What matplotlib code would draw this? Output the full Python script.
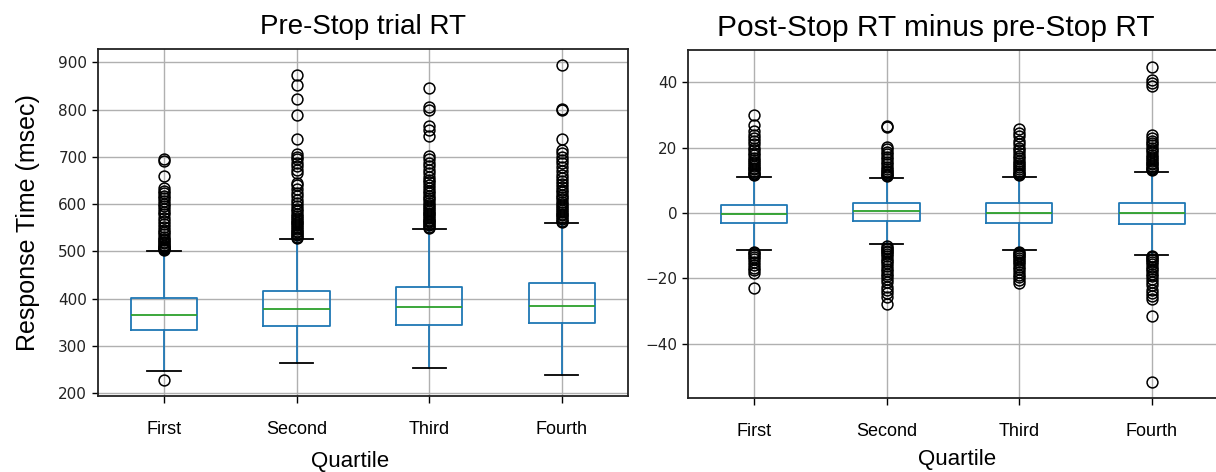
import matplotlib
matplotlib.use("Agg")
import matplotlib.pyplot as plt

# ---------------- data ----------------
quartiles = ["First", "Second", "Third", "Fourth"]

# Left panel: Pre-Stop trial RT (msec)
pre_q1 = [333.5, 341.0, 344.0, 347.7]
pre_med = [364.6, 378.0, 381.6, 385.0]
pre_q3 = [401.0, 416.0, 424.6, 431.8]
pre_whislo = [246.6, 263.6, 253.7, 237.5]
pre_whishi = [499.6, 525.6, 546.8, 560.0]
pre_fliers_first = [227, 502, 504, 506, 508, 510, 512, 514, 517, 520, 523, 527, 531, 536,
                    541, 546, 552, 558, 565, 571, 578, 584, 590, 596, 601, 607, 613, 618,
                    623, 628, 633, 660, 691, 695]
pre_fliers_second = [528, 531, 534, 537, 540, 543, 547, 551, 555, 559, 563, 567, 571, 575,
                     580, 585, 590, 596, 602, 609, 617, 624, 632, 640, 645, 665, 672, 681,
                     688, 695, 700, 706, 738, 789, 822, 853, 874]
pre_fliers_third = [549, 552, 555, 558, 561, 564, 567, 570, 574, 578, 582, 586, 590, 594,
                    598, 603, 608, 613, 618, 623, 628, 634, 640, 646, 652, 658, 665, 672,
                    680, 688, 695, 702, 745, 757, 766, 800, 806, 846]
pre_fliers_fourth = [562, 565, 568, 572, 576, 580, 584, 588, 592, 596, 600, 605, 610, 615,
                     620, 625, 630, 636, 642, 648, 655, 662, 670, 678, 686, 693, 700, 708,
                     715, 738, 799, 802, 894]

# Right panel: Post-Stop RT minus pre-Stop RT (msec)
diff_q1 = [-2.96, -2.45, -3.0, -3.4]
diff_med = [-0.4, 0.5, 0.0, 0.0]
diff_q3 = [2.45, 2.96, 3.0, 3.0]
diff_whislo = [-11.3, -9.6, -11.3, -12.7]
diff_whishi = [11.1, 10.8, 11.1, 12.7]
diff_fliers_first = [11.6, 12.0, 12.4, 12.9, 13.4, 13.9, 14.5, 15.1, 15.7, 16.3, 17.0, 17.7,
                     18.5, 19.3, 20.0, 21.0, 22.0, 23.0, 24.0, 25.0, 27.0, 29.9,
                     -11.8, -12.3, -12.9, -13.5, -14.2, -15.0, -15.8, -16.7, -17.5, -18.2,
                     -22.9]
diff_fliers_second = [11.2, 11.6, 12.0, 12.5, 13.0, 13.6, 14.2, 14.9, 15.6, 16.4, 17.2, 18.0,
                      18.8, 19.5, 20.2, 26.2, 26.7,
                      -10.2, -10.6, -11.0, -11.5, -12.0, -12.6, -13.2, -13.9, -14.6, -15.4,
                      -16.2, -17.0, -17.8, -18.6, -19.4, -20.2, -21.0, -22.5, -23.6, -24.6,
                      -25.6, -27.9]
diff_fliers_third = [11.6, 12.0, 12.4, 12.9, 13.4, 14.0, 14.6, 15.3, 16.0, 16.8, 17.6, 18.4,
                     19.2, 20.0, 21.0, 22.2, 23.5, 24.5, 25.6,
                     -11.8, -12.2, -12.7, -13.2, -13.8, -14.4, -15.0, -15.7, -16.4, -17.2,
                     -18.0, -18.8, -19.6, -20.4, -21.5]
diff_fliers_fourth = [13.1, 13.5, 13.9, 14.4, 14.9, 15.4, 16.0, 16.6, 17.2, 17.9, 18.6, 19.3,
                      20.0, 20.8, 21.5, 22.2, 23.0, 24.0, 38.9, 39.8, 40.8, 44.8,
                      -13.1, -13.5, -14.0, -14.5, -15.1, -15.7, -16.4, -17.1, -17.8, -18.6,
                      -19.4, -20.2, -21.0, -22.0, -23.5, -24.5, -25.5, -26.2, -31.6, -51.7]

pre_fliers = [pre_fliers_first, pre_fliers_second, pre_fliers_third, pre_fliers_fourth]
diff_fliers = [diff_fliers_first, diff_fliers_second, diff_fliers_third, diff_fliers_fourth]

title_left = "Pre-Stop trial RT"
title_right = "Post-Stop RT minus pre-Stop RT"
ylabel_left = "Response Time (msec)"
xlabel = "Quartile"


def make_stats(q1, med, q3, lo, hi, fliers, labels):
    return [dict(q1=a, med=b, q3=c, whislo=d, whishi=e, fliers=f, label=g)
            for a, b, c, d, e, f, g in zip(q1, med, q3, lo, hi, fliers, labels)]


ARIAL = "Liberation Sans"
BLUE = "#1f77b4"

fig = plt.figure(figsize=(12.16, 4.72), dpi=100)
axL = fig.add_axes([0.0803, 0.161, 0.4363, 0.7346])
axR = fig.add_axes([0.5655, 0.1574, 0.4363, 0.7366])


def draw(ax, stats, ylim, yticks):
    ax.bxp(stats, widths=0.5, showfliers=True, patch_artist=False,
           boxprops=dict(color=BLUE, linewidth=1.3),
           whiskerprops=dict(color=BLUE, linewidth=1.3),
           capprops=dict(color="black", linewidth=1.3),
           medianprops=dict(color="#2ca02c", linewidth=1.3),
           flierprops=dict(marker="o", markerfacecolor="none",
                           markeredgecolor="black", markersize=7.8,
                           markeredgewidth=1.1))
    ax.set_ylim(*ylim)
    ax.set_xlim(0.5, 4.5)
    ax.set_yticks(yticks)
    ax.grid(True, color="#b0b0b0", linewidth=1.0)
    ax.set_axisbelow(True)
    for s in ax.spines.values():
        s.set_linewidth(1.3)
        s.set_color("#222222")
    ax.tick_params(axis="y", labelsize=11, labelcolor="#222222", length=4, width=1.0)
    ax.tick_params(axis="x", length=5, width=1.0, pad=13)
    for lab in ax.get_xticklabels():
        lab.set_fontfamily(ARIAL)
        lab.set_fontsize(13)


draw(axL, make_stats(pre_q1, pre_med, pre_q3, pre_whislo, pre_whishi, pre_fliers, quartiles),
     (193.5, 927.8), [200, 300, 400, 500, 600, 700, 800, 900])
draw(axR, make_stats(diff_q1, diff_med, diff_q3, diff_whislo, diff_whishi, diff_fliers, quartiles),
     (-56.5, 49.9), [-40, -20, 0, 20, 40])
axR.spines["right"].set_visible(False)

axL.set_title(title_left, fontfamily=ARIAL, fontsize=20, pad=11)
axR.set_title(title_right, fontfamily=ARIAL, fontsize=21.5, pad=10, x=0.467)

axL.set_xlabel(xlabel, fontfamily=ARIAL, fontsize=16, labelpad=9, x=0.4755)
axR.set_xlabel(xlabel, fontfamily=ARIAL, fontsize=16, labelpad=7, x=0.508)
axL.set_ylabel(ylabel_left, fontfamily=ARIAL, fontsize=18, labelpad=13)

fig.savefig("out.png", dpi=100)
